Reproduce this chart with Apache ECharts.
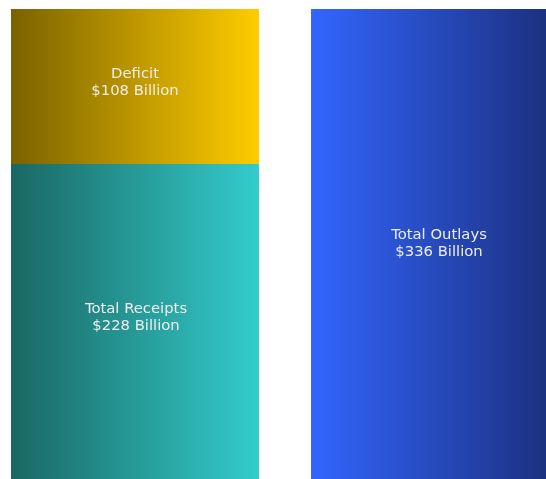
<!DOCTYPE html>
<html><head><meta charset="utf-8">
<script src="https://cdn.jsdelivr.net/npm/echarts@6/dist/echarts.min.js"></script>
<style>html,body{margin:0;padding:0;background:#fff;overflow:hidden}#c{width:546px;height:479px}</style>
</head><body><div id="c"></div>
<script>
const categories = ['Receipts', 'Outlays'];
const receipts = [228, null];
const deficit = [108, null];
const outlays = [null, 336];
const labels = {
  receipts: 'Total Receipts\n$228 Billion',
  deficit: 'Deficit\n$108 Billion',
  outlays: 'Total Outlays\n$336 Billion'
};
function grad(a, b) {
  return new echarts.graphic.LinearGradient(0, 0, 1, 0, [{offset: 0, color: a}, {offset: 1, color: b}]);
}
const lbl = (t, dx, dy) => ({show: true, position: 'inside', formatter: t, offset: [dx, dy], color: '#eeeeee', fontFamily: '"DejaVu Sans", Verdana, sans-serif', fontSize: 14.8, lineHeight: 17});
const chart = echarts.init(document.getElementById('c'));
chart.setOption({
  animation: false,
  grid: {left: -15, top: 9, width: 600, height: 482, containLabel: false, outerBoundsMode: 'none'},
  xAxis: {type: 'category', data: categories, show: false},
  yAxis: {type: 'value', min: 0, max: 336, show: false},
  series: [
    {type: 'bar', stack: 's', data: receipts, barWidth: 248, label: lbl(labels.receipts, 1, -10),
     itemStyle: {color: grad('#1a6763', '#33cccc')}},
    {type: 'bar', stack: 's', data: deficit, barWidth: 248, label: lbl(labels.deficit, 0, -4),
     itemStyle: {color: grad('#7a6200', '#ffcc00')}},
    {type: 'bar', stack: 's', data: outlays, barWidth: 248, label: lbl(labels.outlays, 4, -6),
     itemStyle: {color: grad('#3366ff', '#1a2e7a')}}
  ]
});
</script></body></html>
